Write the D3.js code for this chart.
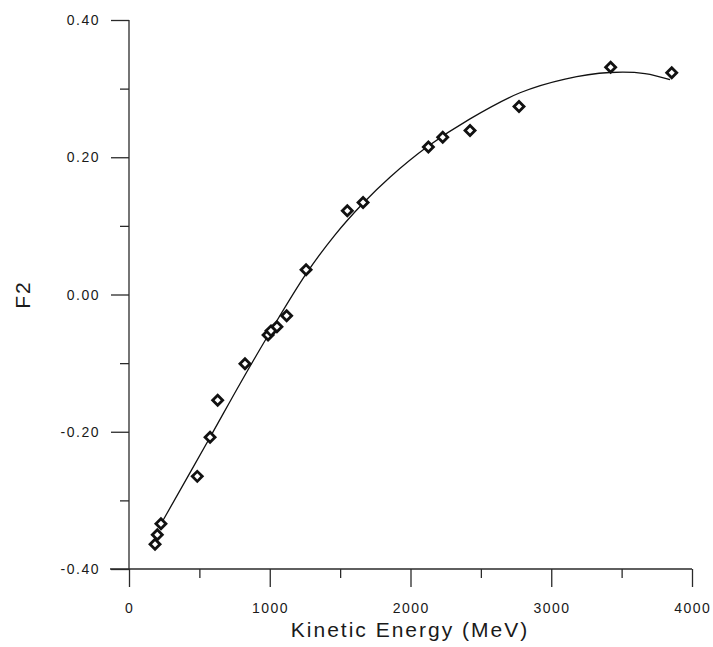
<!DOCTYPE html>
<html>
<head>
<meta charset="utf-8">
<script src="https://cdn.jsdelivr.net/npm/d3@7/dist/d3.min.js"></script>
<style>
  html, body { margin: 0; padding: 0; background: #fff; }
  svg { display: block; }
  text { font-family: "Liberation Sans", Arial, Helvetica, sans-serif; fill: #1a1a1a; }
</style>
</head>
<body>
<svg id="chart" width="713" height="647"></svg>
<script>
// ---- data ----
const energyMeV = [185, 201, 227, 485, 576, 630, 824, 988, 1009, 1051, 1120, 1258, 1551, 1663, 2127, 2229, 2423, 2771, 3422, 3856];
const f2Values  = [-0.364, -0.350, -0.334, -0.265, -0.208, -0.154, -0.101, -0.059, -0.053, -0.047, -0.031, 0.036, 0.122, 0.134, 0.215, 0.229, 0.239, 0.274, 0.331, 0.323];

const fitEnergy = [242, 576, 789, 1002, 1258, 1464, 1663, 1854, 2124, 2423, 2778, 3098, 3417, 3666, 3844];
const fitF2     = [-0.329, -0.208, -0.130, -0.055, 0.030, 0.087, 0.133, 0.171, 0.216, 0.256, 0.294, 0.314, 0.3235, 0.322, 0.313];

const xMajorTicks = [0, 1000, 2000, 3000, 4000];
const xMinorTicks = [500, 1500, 2500, 3500];
const yMajorTicks = [0.40, 0.20, 0.00, -0.20, -0.40];
const yMinorTicks = [0.30, 0.10, -0.10, -0.30];
const yTickLabels = ["0.40", "0.20", "0.00", "-0.20", "-0.40"];
const xTickLabels = ["0", "1000", "2000", "3000", "4000"];

const xTitle = "Kinetic Energy (MeV)";
const yTitle = "F2";

// ---- drawing ----
const svg = d3.select("#chart");
const x = d3.scaleLinear().domain([0, 4000]).range([129, 692]);
const y = d3.scaleLinear().domain([-0.4, 0.4]).range([569, 20]);

const axisColor = "#2a2a2a";
const major = 18, minor = 9;

// x axis line (extends slightly left of the y axis)
svg.append("line")
  .attr("x1", x(0) - 19).attr("x2", x(4000))
  .attr("y1", y(-0.4)).attr("y2", y(-0.4))
  .attr("stroke", axisColor).attr("stroke-width", 1.3);
// y axis line
svg.append("line")
  .attr("x1", x(0)).attr("x2", x(0))
  .attr("y1", y(0.4)).attr("y2", y(-0.4))
  .attr("stroke", axisColor).attr("stroke-width", 1.3);

const xAxisMajor = d3.axisBottom(x).tickValues(xMajorTicks).tickSize(major).tickSizeOuter(0).tickFormat("");
const xAxisMinor = d3.axisBottom(x).tickValues(xMinorTicks).tickSize(minor).tickSizeOuter(0).tickFormat("");
const yAxisMajor = d3.axisLeft(y).tickValues(yMajorTicks).tickSize(major).tickSizeOuter(0).tickFormat("");
const yAxisMinor = d3.axisLeft(y).tickValues(yMinorTicks).tickSize(minor).tickSizeOuter(0).tickFormat("");

function styleAxis(g) {
  g.select(".domain").remove();
  g.selectAll(".tick line").attr("stroke", axisColor).attr("stroke-width", 1.3);
}
svg.append("g").attr("transform", `translate(0,${y(-0.4)})`).call(xAxisMajor).call(styleAxis);
svg.append("g").attr("transform", `translate(0,${y(-0.4)})`).call(xAxisMinor).call(styleAxis);
svg.append("g").attr("transform", `translate(${x(0)},0)`).call(yAxisMajor).call(styleAxis);
svg.append("g").attr("transform", `translate(${x(0)},0)`).call(yAxisMinor).call(styleAxis);

// tick labels
svg.append("g").selectAll("text").data(xMajorTicks).join("text")
  .attr("x", d => x(d) + 0.75)
  .attr("y", 613)
  .attr("text-anchor", "middle")
  .style("font-size", "14px")
  .style("letter-spacing", "1.5px")
  .text((d, i) => xTickLabels[i]);

svg.append("g").selectAll("text").data(yMajorTicks).join("text")
  .attr("x", 100)
  .attr("y", d => y(d))
  .attr("dy", "0.36em")
  .attr("text-anchor", "end")
  .style("font-size", "14px")
  .style("letter-spacing", "1.5px")
  .text((d, i) => yTickLabels[i]);

// axis titles
svg.append("text")
  .attr("x", 410).attr("y", 637)
  .attr("text-anchor", "middle")
  .style("font-size", "21px")
  .style("letter-spacing", "2px")
  .text(xTitle);

svg.append("text")
  .attr("transform", `translate(30,${y(0)}) rotate(-90)`)
  .attr("text-anchor", "middle")
  .style("font-size", "21px")
  .style("letter-spacing", "2px")
  .text(yTitle);

// fitted curve
const fit = fitEnergy.map((e, i) => [e, fitF2[i]]);
svg.append("path")
  .datum(fit)
  .attr("fill", "none")
  .attr("stroke", "#111")
  .attr("stroke-width", 1.3)
  .attr("d", d3.line().x(d => x(d[0])).y(d => y(d[1])).curve(d3.curveCatmullRom.alpha(0.5)));

// data points (open diamonds)
const pts = energyMeV.map((e, i) => [e, f2Values[i]]);
const diamond = d3.symbol().type(d3.symbolSquare).size(50);
svg.append("g").selectAll("path").data(pts).join("path")
  .attr("d", diamond)
  .attr("transform", d => `translate(${x(d[0])},${y(d[1])}) rotate(45)`)
  .attr("fill", "#fff")
  .attr("stroke", "#111")
  .attr("stroke-width", 2.8);
</script>
</body>
</html>
